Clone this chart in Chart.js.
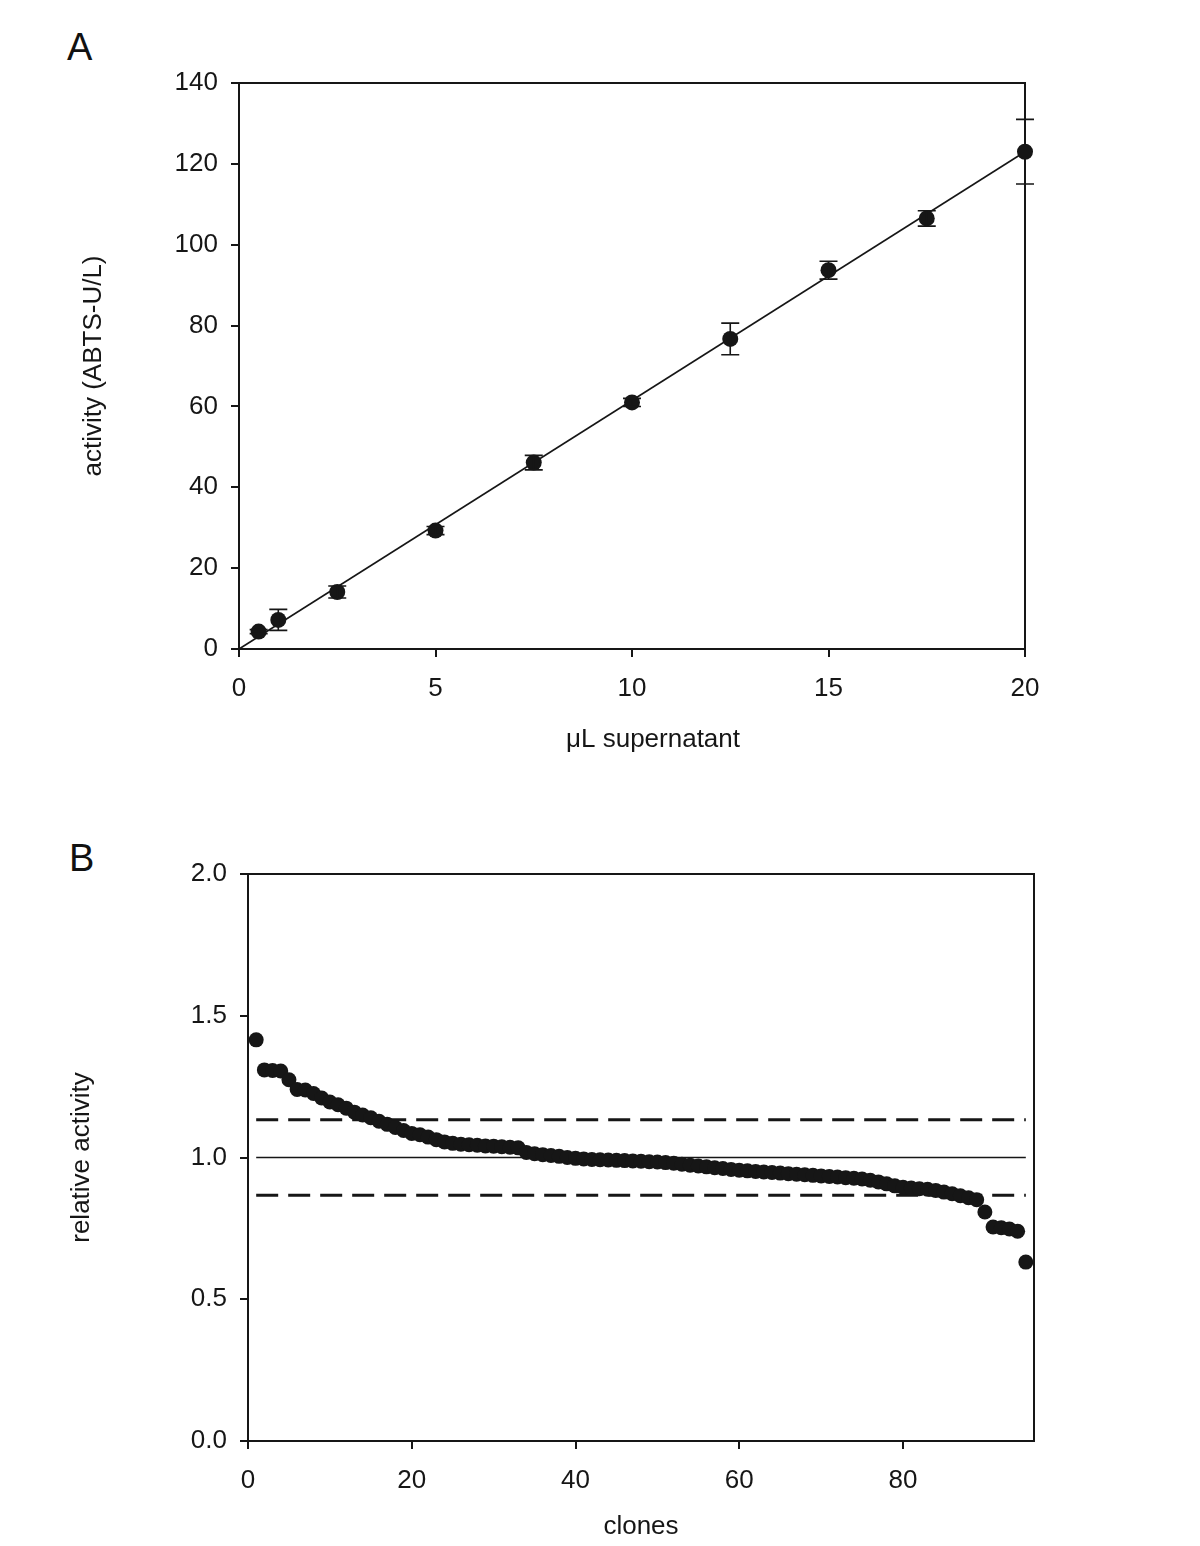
<!DOCTYPE html>
<html>
<head>
<meta charset="utf-8">
<script src="https://cdn.jsdelivr.net/npm/chart.js@4/dist/chart.umd.min.js"></script>
<style>
  html, body { margin: 0; padding: 0; background: #fff; }
  body { width: 1200px; height: 1546px; position: relative; overflow: hidden; font-family: "Liberation Sans", Arial, sans-serif; }
  .wrap { position: absolute; left: 0; width: 1200px; }
  #wrapA { top: 0; height: 780px; }
  #wrapB { top: 780px; height: 766px; }
  .panel { position: absolute; font-size: 38px; color: #111; line-height: 1; }
</style>
</head>
<body>
<div class="panel" style="left:67px; top:28px;">A</div>
<div class="panel" style="left:69px; top:839px;">B</div>
<div class="wrap" id="wrapA"><canvas id="chartA" width="1200" height="780"></canvas></div>
<div class="wrap" id="wrapB"><canvas id="chartB" width="1200" height="766"></canvas></div>
<script>
// ---------- Panel A data ----------
const volumesA = [0.5, 1, 2.5, 5, 7.5, 10, 12.5, 15, 17.5, 20];
const activityA = [4.3, 7.2, 14.1, 29.3, 46.1, 61.0, 76.7, 93.7, 106.5, 123.0];
const errorA = [0.5, 2.6, 1.5, 1.0, 1.8, 1.0, 3.9, 2.2, 1.9, 8.0];
const fitX = [0, 20];
const fitY = [0, 123.0];
const xTicksA = [0, 5, 10, 15, 20];
const yTicksA = [0, 20, 40, 60, 80, 100, 120, 140];
const xTitleA = 'μL supernatant';

// ---------- Panel B data ----------
const clonesB = [];
for (let i = 1; i <= 95; i++) clonesB.push(i);
const relActivityB = [
  1.415, 1.309, 1.307, 1.305, 1.274, 1.240, 1.238, 1.226, 1.210, 1.196,
  1.186, 1.174, 1.160, 1.150, 1.140, 1.128, 1.117, 1.106, 1.095, 1.085,
  1.080, 1.072, 1.063, 1.055, 1.050, 1.047, 1.045, 1.043, 1.041, 1.040,
  1.038, 1.036, 1.034, 1.018, 1.013, 1.010, 1.007, 1.004, 1.000, 0.997,
  0.995, 0.993, 0.992, 0.991, 0.990, 0.989, 0.988, 0.987, 0.985, 0.984,
  0.982, 0.980, 0.976, 0.973, 0.970, 0.967, 0.964, 0.961, 0.958, 0.955,
  0.953, 0.951, 0.949, 0.947, 0.945, 0.943, 0.941, 0.939, 0.937, 0.935,
  0.933, 0.931, 0.929, 0.927, 0.924, 0.920, 0.914, 0.907, 0.900, 0.895,
  0.892, 0.890, 0.888, 0.884, 0.878, 0.872, 0.865, 0.858, 0.851, 0.808,
  0.755, 0.752, 0.748, 0.740, 0.631
];
const lineXB = [1, 95];
const meanB = [1.0, 1.0];
const upperB = [1.133, 1.133];
const lowerB = [0.867, 0.867];
const xTicksB = [0, 20, 40, 60, 80];
const yTicksB = [0, 0.5, 1.0, 1.5, 2.0];

const INK = '#161616';
const FONT = { family: '"Liberation Sans", Arial, sans-serif', size: 26 };

const boxPlugin = {
  id: 'boxPlugin',
  afterDraw(chart) {
    const { ctx, chartArea: a } = chart;
    ctx.save();
    ctx.strokeStyle = INK;
    ctx.lineWidth = 2;
    ctx.beginPath();
    ctx.moveTo(a.left, a.top);
    ctx.lineTo(a.right, a.top);
    ctx.lineTo(a.right, a.bottom);
    ctx.stroke();
    ctx.restore();
  }
};

const errorPlugin = {
  id: 'errorPlugin',
  afterDatasetsDraw(chart) {
    const { ctx, scales } = chart;
    const xs = scales.x, ys = scales.y;
    ctx.save();
    ctx.strokeStyle = INK;
    ctx.lineWidth = 1.6;
    for (let i = 0; i < volumesA.length; i++) {
      const px = xs.getPixelForValue(volumesA[i]);
      const top = ys.getPixelForValue(activityA[i] + errorA[i]);
      const bot = ys.getPixelForValue(activityA[i] - errorA[i]);
      const cap = 9;
      ctx.beginPath();
      ctx.moveTo(px, top); ctx.lineTo(px, bot);
      ctx.moveTo(px - cap, top); ctx.lineTo(px + cap, top);
      ctx.moveTo(px - cap, bot); ctx.lineTo(px + cap, bot);
      ctx.stroke();
    }
    ctx.restore();
  }
};

// x-axis title of panel A, drawn slightly right of centre like the original
const titleAPlugin = {
  id: 'titleAPlugin',
  afterDraw(chart) {
    const { ctx, chartArea: a } = chart;
    ctx.save();
    ctx.fillStyle = INK;
    ctx.font = FONT.size + 'px ' + FONT.family;
    ctx.textAlign = 'center';
    ctx.textBaseline = 'middle';
    ctx.fillText(xTitleA, (a.left + a.right) / 2 + 21, a.bottom + 91);
    ctx.restore();
  }
};

function axisCommon(ticksArr, min, max, fitFn, fmt, title, showTitle, tickPad) {
  return {
    type: 'linear',
    min: min, max: max,
    afterBuildTicks(scale) { scale.ticks = ticksArr.map(v => ({ value: v })); },
    afterFit: fitFn,
    grid: { drawOnChartArea: false, drawTicks: true, tickLength: 8, color: INK, lineWidth: 2 },
    border: { display: true, color: INK, width: 2 },
    ticks: { color: INK, font: FONT, padding: tickPad, callback: fmt, maxRotation: 0, autoSkip: false },
    title: { display: showTitle, text: title, color: INK, font: FONT, padding: { top: 4, bottom: 4 } }
  };
}

// ---------- Chart A ----------
new Chart(document.getElementById('chartA'), {
  type: 'scatter',
  data: {
    datasets: [
      {
        type: 'line',
        data: fitX.map((x, i) => ({ x: x, y: fitY[i] })),
        borderColor: INK, borderWidth: 1.6, pointRadius: 0, fill: false, clip: false, order: 2
      },
      {
        data: volumesA.map((x, i) => ({ x: x, y: activityA[i] })),
        backgroundColor: INK, borderColor: INK, pointRadius: 8, borderWidth: 0, clip: false, order: 1
      }
    ]
  },
  options: {
    responsive: false, animation: false, devicePixelRatio: 1,
    layout: { padding: { left: 74, right: 175, top: 83, bottom: 22 } },
    plugins: { legend: { display: false }, tooltip: { enabled: false } },
    scales: {
      x: axisCommon(xTicksA, 0, 20, s => { s.height = 109; }, v => String(v), xTitleA, false, 16),
      y: axisCommon(yTicksA, 0, 140, s => { s.width = 165; }, v => String(v), 'activity (ABTS-U/L)', true, 13)
    }
  },
  plugins: [boxPlugin, errorPlugin, titleAPlugin]
});

// ---------- Chart B ----------
new Chart(document.getElementById('chartB'), {
  type: 'scatter',
  data: {
    datasets: [
      {
        type: 'line',
        data: lineXB.map((x, i) => ({ x: x, y: meanB[i] })),
        borderColor: INK, borderWidth: 1.5, pointRadius: 0, fill: false, order: 3
      },
      {
        type: 'line',
        data: lineXB.map((x, i) => ({ x: x, y: upperB[i] })),
        borderColor: INK, borderWidth: 3, borderDash: [22, 10], pointRadius: 0, fill: false, order: 3
      },
      {
        type: 'line',
        data: lineXB.map((x, i) => ({ x: x, y: lowerB[i] })),
        borderColor: INK, borderWidth: 3, borderDash: [22, 10], pointRadius: 0, fill: false, order: 3
      },
      {
        data: clonesB.map((x, i) => ({ x: x, y: relActivityB[i] })),
        backgroundColor: INK, borderColor: INK, pointRadius: 7.5, borderWidth: 0, clip: false, order: 1
      }
    ]
  },
  options: {
    responsive: false, animation: false, devicePixelRatio: 1,
    layout: { padding: { left: 62, right: 166, top: 94, bottom: 0 } },
    plugins: { legend: { display: false }, tooltip: { enabled: false } },
    scales: {
      x: axisCommon(xTicksB, 0, 96, s => { s.height = 105; }, v => String(v), 'clones', true, 16),
      y: axisCommon(yTicksB, 0, 2, s => { s.width = 186; }, v => Number(v).toFixed(1), 'relative activity', true, 13)
    }
  },
  plugins: [boxPlugin]
});
</script>
</body>
</html>
